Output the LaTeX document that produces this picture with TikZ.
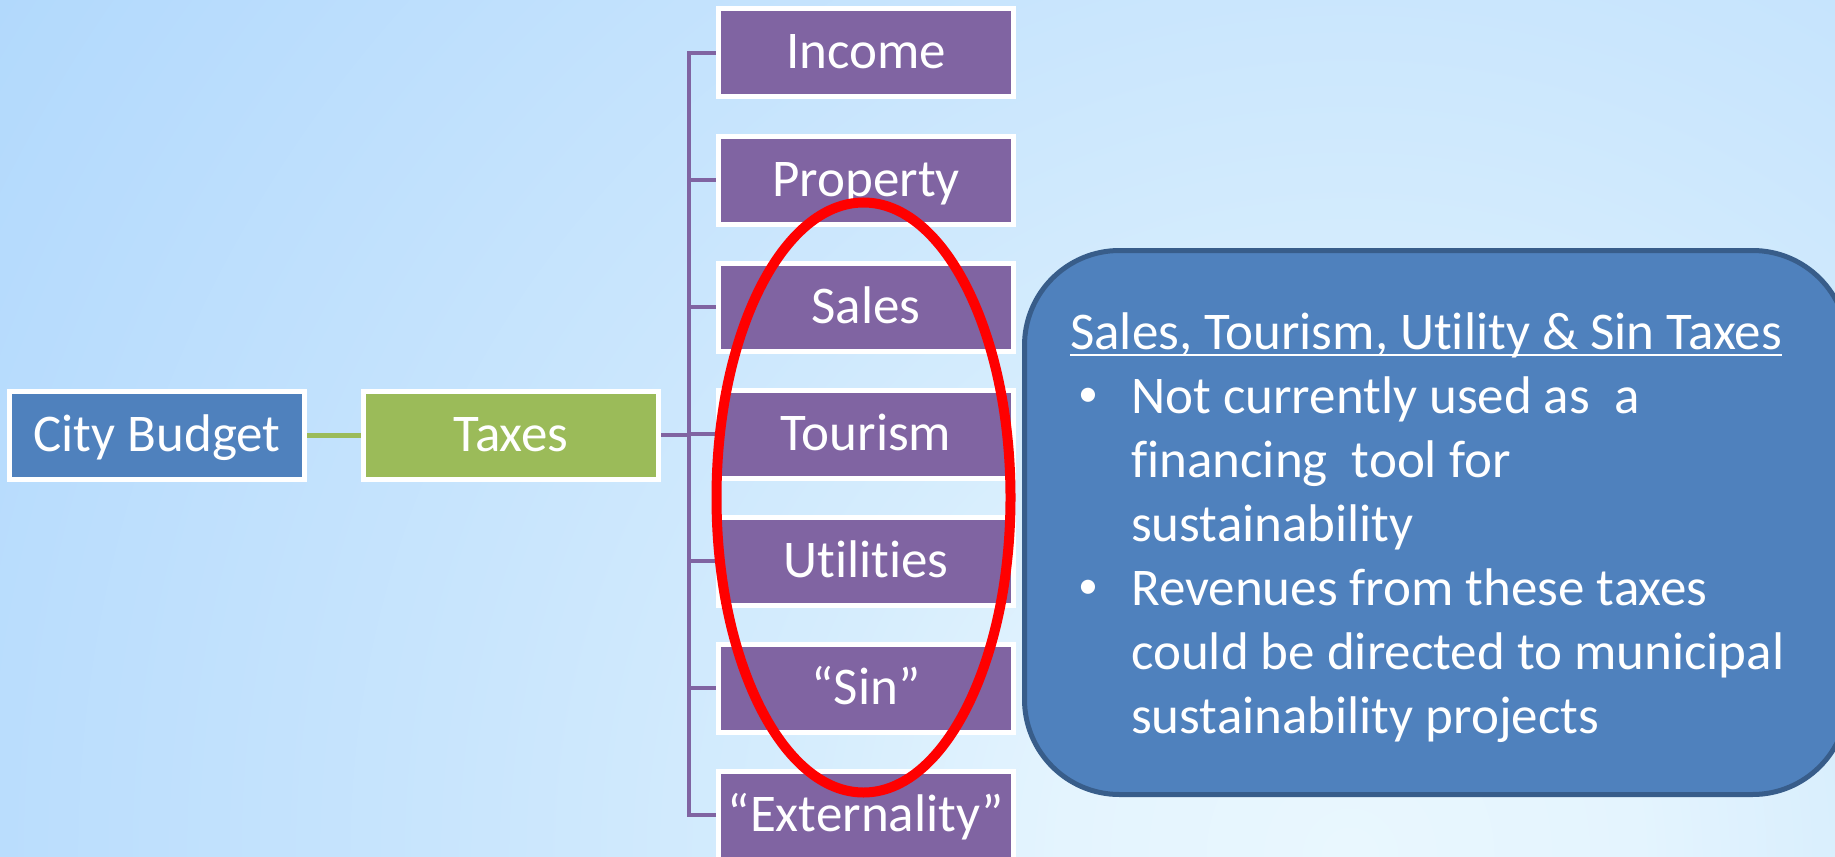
\documentclass[tikz,border=0pt]{standalone}
\usepackage{fontspec}
\setmainfont{Carlito}[Ligatures=NoCommon]
\usetikzlibrary{shapes.geometric,calc}
\definecolor{bgA}{HTML}{E9F7FE}
\definecolor{bgB}{HTML}{E4F4FE}
\definecolor{bgC}{HTML}{D6EDFD}
\definecolor{bgD}{HTML}{CAE6FD}
\definecolor{bgE}{HTML}{B8DCFD}
\definecolor{bgF}{HTML}{B2D9FC}
\definecolor{cbblue}{HTML}{4F81BD}
\definecolor{taxgreen}{HTML}{9BBB59}
\definecolor{purp}{HTML}{8064A2}
\definecolor{noteedge}{HTML}{385D8A}
\pgfdeclareradialshading{bgshade}{\pgfpoint{0bp}{0bp}}{color(0bp)=(bgA); color(4.5bp)=(bgB); color(8.5bp)=(bgC); color(13.5bp)=(bgD); color(22bp)=(bgE); color(25bp)=(bgF); color(50bp)=(bgF)}
\begin{document}
\begin{tikzpicture}[x=1pt,y=-1pt,
  box/.style={draw=white, line width=5pt, minimum width=295pt, minimum height=88pt,
    text=white, font=\fontsize{53}{64}\selectfont, text height=32pt, text depth=0pt, inner sep=0pt},
  budgetbox/.style={box, fill=cbblue},
  taxbox/.style={box, fill=taxgreen},
  kindbox/.style={box, fill=purp},
  purpline/.style={draw=purp, line width=4.5pt},
  greenline/.style={draw=taxgreen, line width=5pt},
  notebox/.style={draw=noteedge, fill=cbblue, line width=5pt, rounded corners=95pt,
    minimum width=823pt, minimum height=544pt, inner sep=0pt},
  notetext/.style={text=white, font=\fontsize{53}{64}\selectfont, inner sep=0pt, anchor=base west},
  bullettext/.style={text=white, font=\fontsize{40}{48}\selectfont, inner sep=0pt, anchor=base west},
  oval/.style={ellipse, draw=red, line width=10pt, minimum width=294pt, minimum height=590pt, inner sep=0pt}
]
\useasboundingbox (0,0) rectangle (1835,856);
\begin{scope}
  \clip (0,0) rectangle (1835,856);
  \shade[shading=bgshade] (1350,856) circle (1600pt);
\end{scope}

% boxes
\node[budgetbox] (city) at (157,435) {City Budget};
\node[taxbox] (taxes) at (511,435) {Taxes};
\node[kindbox] (income) at (866,53) {Income};
\node[kindbox] (property) at (866,180) {Property};
\node[kindbox] (sales) at (866,307) {Sales};
\node[kindbox] (tourism) at (866,434) {Tourism};
\node[kindbox] (utilities) at (866,561) {Utilities};
\node[kindbox] (sin) at (866,688) {“Sin”};
\node[kindbox] (extern) at (866,815) {“Externality”};

% connectors
\coordinate (jt) at (689,435);
\draw[greenline] (city.east) -- (taxes.west);
\draw[purpline] (taxes.east) -- (jt);
\foreach \b in {income,property,sales,tourism,utilities,sin,extern}
  \draw[purpline, line join=miter] (jt) |- (\b.west);

% note box
\node[notebox] (note) at (1436,522.5) {};
\node[notetext] (head) at (1070,349) {Sales, Tourism, Utility \& Sin Taxes};
\draw[white, line width=2.5pt] ([yshift=-6pt]head.base west) -- ([yshift=-6pt]head.base east);
\node[bullettext] (bul1) at (1078,406) {•};
\node[notetext] (l1) at (1131,413) {Not currently used as\ \ a};
\node[notetext] (l2) at (1131,477) {financing\ \ tool for};
\node[notetext] (l3) at (1131,541) {sustainability};
\node[bullettext] (bul2) at (1078,598) {•};
\node[notetext] (l4) at (1131,605) {Revenues from these taxes};
\node[notetext] (l5) at (1131,669) {could be directed to municipal};
\node[notetext] (l6) at (1131,733) {sustainability projects};

% red oval
\node[oval] (ring) at (863.5,497.5) {};
\end{tikzpicture}
\end{document}
